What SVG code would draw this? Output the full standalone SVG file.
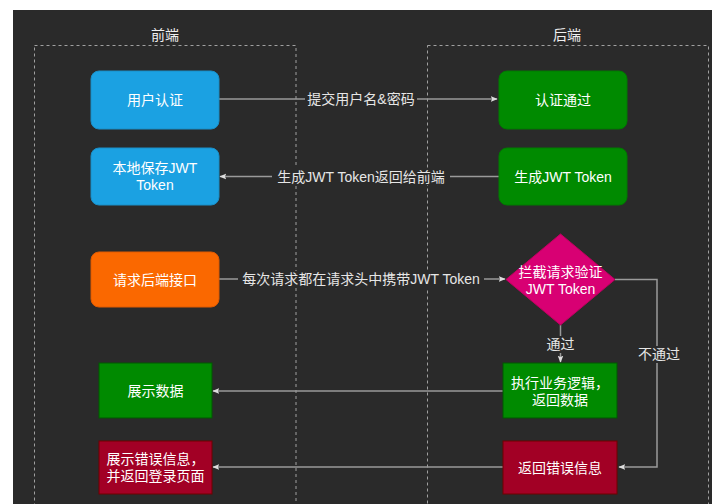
<svg xmlns="http://www.w3.org/2000/svg" width="712" height="504" viewBox="0 0 712 504">
<defs>
<style>
text{font-family:"Liberation Sans","Noto Sans CJK SC",sans-serif;font-size:14px;fill:#ffffff;text-anchor:middle;dominant-baseline:central}
.lane{fill:none;stroke:#a0a0a0;stroke-width:1;stroke-dasharray:3 3}
.title{fill:#f0f0f0}
.edge{fill:none;stroke:#9a9a9a;stroke-width:1.5}
.lbl{fill:#2a2a2a}
.elt{fill:#e6e6e6}
</style>
<marker id="arr" viewBox="0 0 10 10" refX="9" refY="5" markerWidth="7" markerHeight="7" orient="auto" markerUnits="userSpaceOnUse">
<path d="M0,1 L10,5 L0,9 L2,5 Z" fill="#dddddd"/>
</marker>
</defs>
<rect x="0" y="0" width="712" height="504" fill="#ffffff"/>
<rect x="13" y="10" width="699" height="494" fill="#2a2a2a"/>

<g id="lane-front">
<rect class="lane" x="34.5" y="45.5" width="261.5" height="470"/>
<text class="title" x="165" y="35">前端</text>
</g>
<g id="lane-back">
<rect class="lane" x="427.5" y="45.5" width="281" height="470"/>
<text class="title" x="567" y="35">后端</text>
</g>

<g id="connectors">
<path class="edge" d="M219,99 H497" marker-end="url(#arr)"/>
<rect class="lbl" x="305" y="91" width="112" height="17"/>
<text class="elt" x="361" y="99">提交用户名&amp;密码</text>

<path class="edge" d="M499,176.5 H220" marker-end="url(#arr)"/>
<rect class="lbl" x="272" y="168" width="178" height="17"/>
<text class="elt" x="361" y="176.5">生成JWT Token返回给前端</text>

<path class="edge" d="M219,279 H505" marker-end="url(#arr)"/>
<rect class="lbl" x="238" y="271" width="246" height="17"/>
<text class="elt" x="361" y="279">每次请求都在请求头中携带JWT Token</text>

<path class="edge" d="M560.5,325 V362" marker-end="url(#arr)"/>
<rect class="lbl" x="544" y="336" width="33" height="17"/>
<text class="elt" x="560.5" y="344">通过</text>

<path class="edge" d="M615,279.5 H657 V467 H619" marker-end="url(#arr)"/>
<rect class="lbl" x="637" y="346" width="44" height="17"/>
<text class="elt" x="659" y="354">不通过</text>

<path class="edge" d="M503,391 H213" marker-end="url(#arr)"/>
<path class="edge" d="M503,467 H213" marker-end="url(#arr)"/>
</g>

<g id="node-user-auth">
<rect x="91" y="71" width="128" height="58" rx="8" fill="#1ba1e2" stroke="#1a8fc8"/>
<text x="155" y="100">用户认证</text>
</g>
<g id="node-auth-pass">
<rect x="499" y="71" width="128" height="58" rx="8" fill="#008a00" stroke="#007a00"/>
<text x="563" y="100">认证通过</text>
</g>
<g id="node-save-token">
<rect x="91" y="148" width="128" height="57" rx="8" fill="#1ba1e2" stroke="#1a8fc8"/>
<text x="155" y="168">本地保存JWT</text>
<text x="155" y="185">Token</text>
</g>
<g id="node-gen-token">
<rect x="499" y="148" width="128" height="57" rx="8" fill="#008a00" stroke="#007a00"/>
<text x="563" y="176.5">生成JWT Token</text>
</g>
<g id="node-request">
<rect x="91" y="252" width="128" height="55" rx="8" fill="#fa6800" stroke="#e05a00"/>
<text x="155" y="279.5">请求后端接口</text>
</g>
<g id="node-intercept">
<polygon points="560.5,234 615,279.5 560.5,325 506,279.5" fill="#d80073" stroke="#c0005f"/>
<text x="560.5" y="272">拦截请求验证</text>
<text x="560.5" y="288.5">JWT Token</text>
</g>
<g id="node-exec">
<rect x="503" y="363" width="114" height="55" fill="#008a00" stroke="#005700"/>
<text x="560" y="383">执行业务逻辑，</text>
<text x="560" y="400">返回数据</text>
</g>
<g id="node-show-data">
<rect x="99" y="363" width="113" height="55" fill="#008a00" stroke="#005700"/>
<text x="155.5" y="390.5">展示数据</text>
</g>
<g id="node-return-error">
<rect x="503" y="441" width="114" height="53" fill="#a20025" stroke="#6f0000"/>
<text x="560" y="467.5">返回错误信息</text>
</g>
<g id="node-show-error">
<rect x="99" y="441" width="113" height="53" fill="#a20025" stroke="#6f0000"/>
<text x="155.5" y="458.5">展示错误信息，</text>
<text x="155.5" y="476">并返回登录页面</text>
</g>
</svg>
